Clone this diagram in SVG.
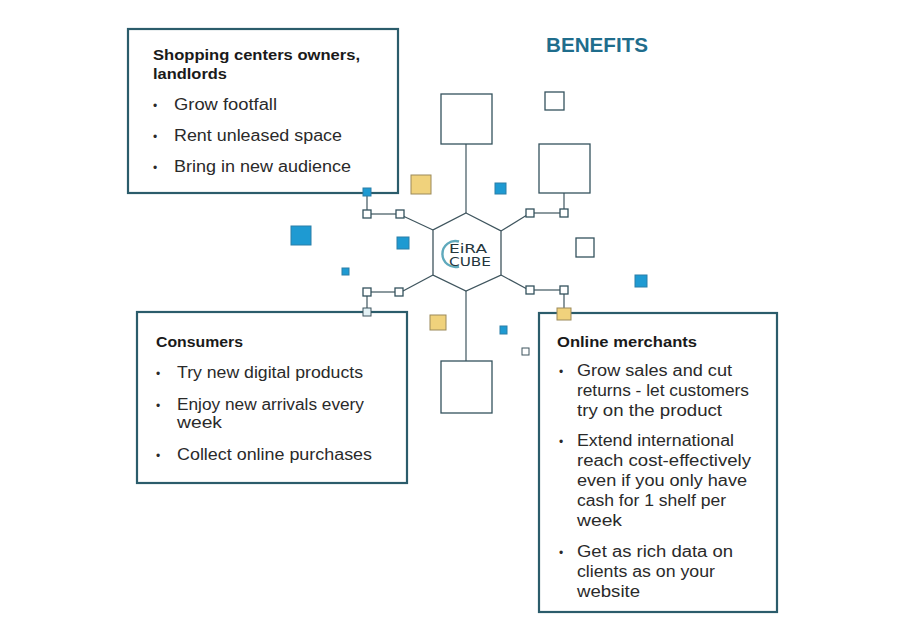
<svg xmlns="http://www.w3.org/2000/svg" width="902" height="627" viewBox="0 0 902 627">
<style>
.box{fill:#fff;stroke:#2b5c6b;stroke-width:2.2}
.sq{fill:#fff;stroke:#34525d;stroke-width:1.3}
.hub{fill:#fff;stroke:#3f555e;stroke-width:1.3}
.ln{fill:none;stroke:#3f555e;stroke-width:1.2}
.blue{fill:#1e9ad2;stroke:#2a7fa8;stroke-width:1}
.tan{fill:#f0d27c;stroke:#9c8a5a;stroke-width:1}
.tiny{fill:#fff;stroke:#3f555e;stroke-width:1}
.h{font-family:"Liberation Sans",Arial,sans-serif;font-weight:bold;font-size:15px;fill:#1a1a1a}
.t{font-family:"Liberation Sans",Arial,sans-serif;font-size:16px;fill:#2a2a2a}
.b{font-family:"Liberation Sans",Arial,sans-serif;font-size:12px;fill:#2a2a2a}
.title{font-family:"Liberation Sans",Arial,sans-serif;font-weight:bold;font-size:20px;fill:#1f6d8c}
.logo{font-family:"DejaVu Sans",sans-serif;font-size:12px;fill:#24363d}
</style>
<rect width="902" height="627" fill="#fff"/>
<text class="title" x="546" y="52" textLength="102" lengthAdjust="spacingAndGlyphs">BENEFITS</text>

<g id="connectors">
  <line class="ln" x1="466" y1="144" x2="466" y2="213"/>
  <line class="ln" x1="466" y1="291" x2="466" y2="361"/>
  <line class="ln" x1="433" y1="230" x2="403" y2="216"/>
  <line class="ln" x1="371" y1="214" x2="396" y2="214"/>
  <line class="ln" x1="367" y1="196" x2="367" y2="210"/>
  <line class="ln" x1="433" y1="275" x2="403" y2="291"/>
  <line class="ln" x1="371" y1="292" x2="396" y2="292"/>
  <line class="ln" x1="367" y1="296" x2="367" y2="308"/>
  <line class="ln" x1="501" y1="231" x2="527" y2="215"/>
  <line class="ln" x1="534" y1="213" x2="560" y2="213"/>
  <line class="ln" x1="564" y1="193" x2="564" y2="209"/>
  <line class="ln" x1="501" y1="275" x2="527" y2="289"/>
  <line class="ln" x1="534" y1="290" x2="560" y2="290"/>
  <line class="ln" x1="564" y1="294" x2="564" y2="308"/>
  <rect class="sq" x="363" y="210" width="8" height="8"/>
  <rect class="sq" x="396" y="210" width="8" height="8"/>
  <rect class="sq" x="363" y="288" width="8" height="8"/>
  <rect class="sq" x="395" y="288" width="8" height="8"/>
  <rect class="sq" x="526" y="209" width="8" height="8"/>
  <rect class="sq" x="560" y="209" width="8" height="8"/>
  <rect class="sq" x="526" y="286" width="8" height="8"/>
  <rect class="sq" x="560" y="286" width="8" height="8"/>
</g>

<g id="hub">
  <polygon class="hub" points="466,213 501,231 501,275 466,291 433,275 433,230"/>
  <path d="M459,241.5 A13,13 0 1 0 459,266.5" fill="none" stroke="#5fa9bc" stroke-width="2.4"/>
  <text class="logo" x="449" y="252.5" textLength="38" lengthAdjust="spacingAndGlyphs">EiRA</text>
  <text class="logo" x="449" y="266" textLength="42" lengthAdjust="spacingAndGlyphs">CUBE</text>
</g>

<g id="deco">
  <rect class="sq" x="441" y="94" width="51" height="50"/>
  <rect class="sq" x="545" y="92" width="19" height="18"/>
  <rect class="sq" x="539" y="144" width="51" height="49"/>
  <rect class="sq" x="441" y="361" width="51" height="52"/>
  <rect class="sq" x="576" y="238" width="18" height="19"/>
  <rect class="tiny" x="522" y="348" width="7" height="7"/>
  <rect class="tan" x="411" y="175" width="20" height="19"/>
  <rect class="tan" x="430" y="315" width="16" height="15"/>
  <rect class="blue" x="495" y="183" width="11" height="11"/>
  <rect class="blue" x="397" y="237" width="12" height="12"/>
  <rect class="blue" x="291" y="226" width="20" height="19"/>
  <rect class="blue" x="342" y="268" width="7" height="7"/>
  <rect class="blue" x="635" y="275" width="12" height="12"/>
  <rect class="blue" x="500" y="326" width="7" height="8"/>
</g>

<g id="owners">
  <rect class="box" x="128" y="29" width="270" height="164"/>
  <text class="h" x="153" y="60" textLength="207" lengthAdjust="spacingAndGlyphs">Shopping centers owners,</text>
  <text class="h" x="153" y="79" textLength="74" lengthAdjust="spacingAndGlyphs">landlords</text>
  <text class="b" x="153" y="110">•</text>
  <text class="t" x="174" y="110" textLength="103" lengthAdjust="spacingAndGlyphs">Grow footfall</text>
  <text class="b" x="153" y="141">•</text>
  <text class="t" x="174" y="141" textLength="168" lengthAdjust="spacingAndGlyphs">Rent unleased space</text>
  <text class="b" x="153" y="172">•</text>
  <text class="t" x="174" y="172" textLength="177" lengthAdjust="spacingAndGlyphs">Bring in new audience</text>
  <rect class="blue" x="363" y="188" width="8" height="8" fill="#2e8fb8"/>
</g>

<g id="consumers">
  <rect class="box" x="137" y="312" width="270" height="171"/>
  <text class="h" x="156" y="347" textLength="87" lengthAdjust="spacingAndGlyphs">Consumers</text>
  <text class="b" x="156" y="378">•</text>
  <text class="t" x="177" y="378" textLength="186" lengthAdjust="spacingAndGlyphs">Try new digital products</text>
  <text class="b" x="156" y="410">•</text>
  <text class="t" x="177" y="410" textLength="187" lengthAdjust="spacingAndGlyphs">Enjoy new arrivals every</text>
  <text class="t" x="177" y="428" textLength="45" lengthAdjust="spacingAndGlyphs">week</text>
  <text class="b" x="156" y="460">•</text>
  <text class="t" x="177" y="460" textLength="195" lengthAdjust="spacingAndGlyphs">Collect online purchases</text>
  <rect x="363" y="308" width="8" height="8" fill="#e4f2f6" stroke="#3f555e" stroke-width="1"/>
</g>

<g id="merchants">
  <rect class="box" x="539" y="313" width="238" height="299"/>
  <text class="h" x="557" y="347" textLength="140" lengthAdjust="spacingAndGlyphs">Online merchants</text>
  <text class="b" x="559" y="376">•</text>
  <text class="t" x="577" y="376" textLength="155" lengthAdjust="spacingAndGlyphs">Grow sales and cut</text>
  <text class="t" x="577" y="396" textLength="172" lengthAdjust="spacingAndGlyphs">returns - let customers</text>
  <text class="t" x="577" y="416" textLength="145" lengthAdjust="spacingAndGlyphs">try on the product</text>
  <text class="b" x="559" y="446">•</text>
  <text class="t" x="577" y="446" textLength="157" lengthAdjust="spacingAndGlyphs">Extend international</text>
  <text class="t" x="577" y="466" textLength="174" lengthAdjust="spacingAndGlyphs">reach cost-effectively</text>
  <text class="t" x="577" y="486" textLength="170" lengthAdjust="spacingAndGlyphs">even if you only have</text>
  <text class="t" x="577" y="506" textLength="149" lengthAdjust="spacingAndGlyphs">cash for 1 shelf per</text>
  <text class="t" x="577" y="526" textLength="45" lengthAdjust="spacingAndGlyphs">week</text>
  <text class="b" x="559" y="557">•</text>
  <text class="t" x="577" y="557" textLength="156" lengthAdjust="spacingAndGlyphs">Get as rich data on</text>
  <text class="t" x="577" y="577" textLength="138" lengthAdjust="spacingAndGlyphs">clients as on your</text>
  <text class="t" x="577" y="597" textLength="63" lengthAdjust="spacingAndGlyphs">website</text>
  <rect class="tan" x="557" y="308" width="14" height="12"/>
</g>
</svg>
